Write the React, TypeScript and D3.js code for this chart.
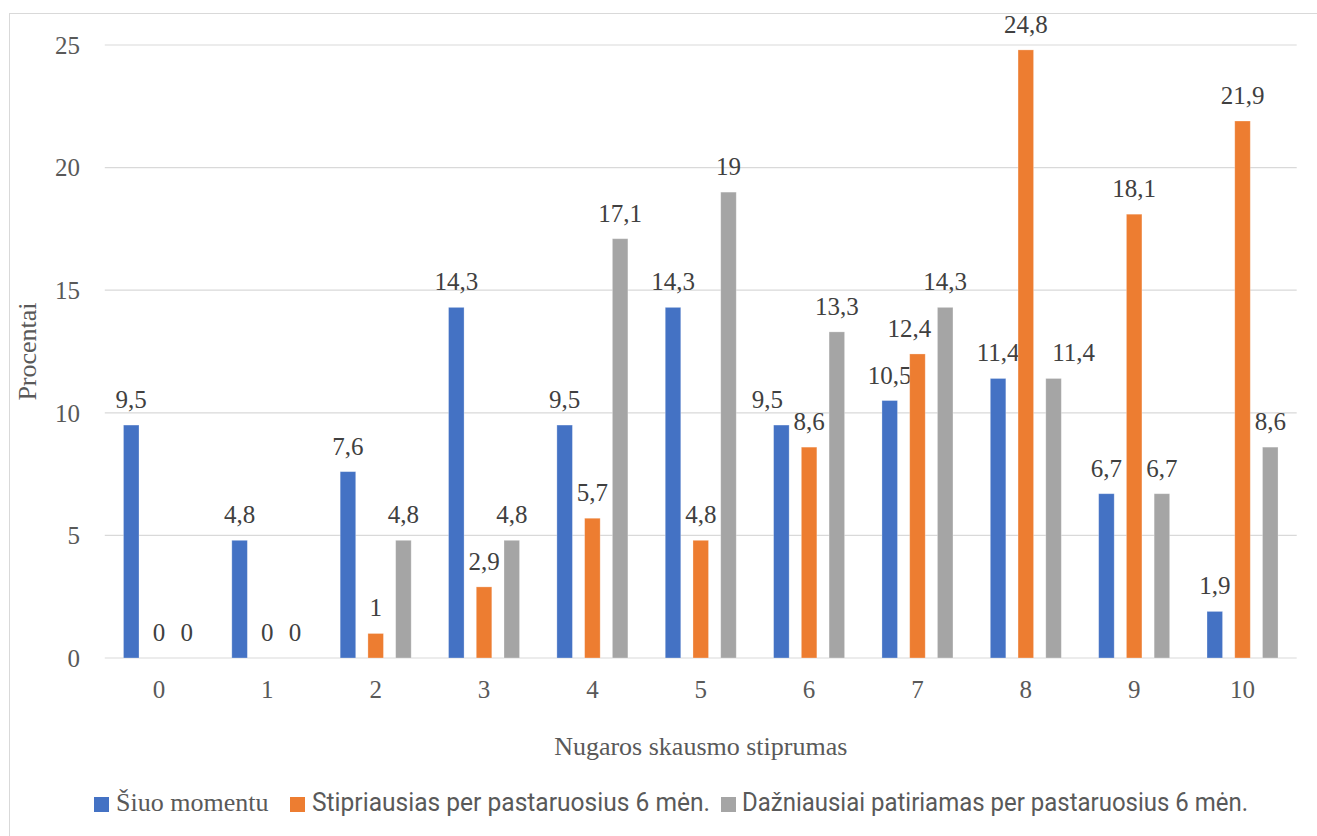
import React from "react";
import * as d3 from "d3";

const categories = ["0", "1", "2", "3", "4", "5", "6", "7", "8", "9", "10"];
const seriesNames = [
  "Šiuo momentu",
  "Stipriausias per pastaruosius 6 mėn.",
  "Dažniausiai patiriamas per pastaruosius 6 mėn.",
];
const current = [9.5, 4.8, 7.6, 14.3, 9.5, 14.3, 9.5, 10.5, 11.4, 6.7, 1.9];
const strongest = [0, 0, 1, 2.9, 5.7, 4.8, 8.6, 12.4, 24.8, 18.1, 21.9];
const mostFrequent = [0, 0, 4.8, 4.8, 17.1, 19, 13.3, 14.3, 11.4, 6.7, 8.6];
const yTicks = [0, 5, 10, 15, 20, 25];
const colors = ["#4472C4", "#ED7D31", "#A5A5A5"];

const seriesValues = [current, strongest, mostFrequent];

// label nudges (layout only) where the original moved labels to avoid collisions
const labelNudge: Record<string, number> = { "6-0": -14, "7-1": -8, "8-2": 20 };

export default function App() {
  const W = 1317;
  const H = 836;
  const left = 104.8;
  const right = 1296.7;
  const top = 45;
  const bottom = 658;

  const x0 = d3.scaleBand<string>().domain(categories).range([left, right]).padding(0);
  const half = x0.bandwidth() * 0.384;
  const x1 = d3
    .scaleBand<string>()
    .domain(seriesNames)
    .range([-half, half])
    .paddingInner(0.44)
    .paddingOuter(0.22);
  const y = d3.scaleLinear().domain([0, 25]).range([bottom, top]);

  const fmt = (v: number) => String(v).replace(".", ",");
  const serif = "'Liberation Serif', 'Times New Roman', serif";
  const sans = "'Liberation Sans Narrow', Roboto, 'Noto Sans', sans-serif";

  const legend = [
    { sq: 94, tx: 116, font: serif, len: 0 },
    { sq: 290, tx: 312, font: sans, len: 398 },
    { sq: 721, tx: 742, font: sans, len: 506 },
  ];

  return (
    <svg
      width={W}
      height={H}
      style={{ position: "fixed", left: 0, top: 0, background: "#fff" }}
    >
      <rect x={0} y={0} width={W} height={H} fill="#fff" />
      <rect x={9.5} y={13.5} width={1400} height={900} fill="none" stroke="#D9D9D9" strokeWidth={1} />

      {yTicks.map((t) => (
        <g key={t}>
          <line x1={left} x2={right} y1={y(t)} y2={y(t)} stroke="#D9D9D9" strokeWidth={1.2} />
          <text
            x={80}
            y={y(t)}
            dy="0.35em"
            textAnchor="end"
            fontFamily={serif}
            fontSize={25}
            fill="#595959"
          >
            {t}
          </text>
        </g>
      ))}

      {categories.map((c, ci) => {
        const cx = (x0(c) as number) + x0.bandwidth() / 2;
        return (
          <g key={c}>
            {seriesNames.map((s, si) => {
              const v = seriesValues[si][ci];
              const bx = cx + (x1(s) as number);
              const bw = x1.bandwidth();
              const nudge = labelNudge[`${ci}-${si}`] || 0;
              return (
                <g key={s}>
                  {v > 0 && (
                    <rect
                      x={bx}
                      y={y(v)}
                      width={bw}
                      height={y(0) - y(v)}
                      fill={colors[si]}
                      stroke="#fff"
                      strokeOpacity={0.35}
                      strokeWidth={0.8}
                    />
                  )}
                  <text
                    x={bx + bw / 2 + nudge}
                    y={y(v) - 17}
                    textAnchor="middle"
                    fontFamily={serif}
                    fontSize={25}
                    fill="#404040"
                  >
                    {fmt(v)}
                  </text>
                </g>
              );
            })}
            <text
              x={cx}
              y={698}
              textAnchor="middle"
              fontFamily={serif}
              fontSize={25}
              fill="#595959"
            >
              {c}
            </text>
          </g>
        );
      })}

      <text
        x={(left + right) / 2}
        y={755}
        textAnchor="middle"
        fontFamily={serif}
        fontSize={26}
        fill="#595959"
      >
        Nugaros skausmo stiprumas
      </text>
      <text
        transform={`translate(36, ${(top + bottom) / 2}) rotate(-90)`}
        textAnchor="middle"
        fontFamily={serif}
        fontSize={26}
        fill="#595959"
      >
        Procentai
      </text>

      {seriesNames.map((s, i) => (
        <g key={s}>
          <rect x={legend[i].sq} y={797} width={15} height={15} fill={colors[i]} />
          <text
            x={legend[i].tx}
            y={811}
            fontFamily={legend[i].font}
            fontSize={26}
            fill="#595959"
            {...(legend[i].len
              ? { textLength: legend[i].len, lengthAdjust: "spacingAndGlyphs" }
              : {})}
          >
            {s}
          </text>
        </g>
      ))}
    </svg>
  );
}
